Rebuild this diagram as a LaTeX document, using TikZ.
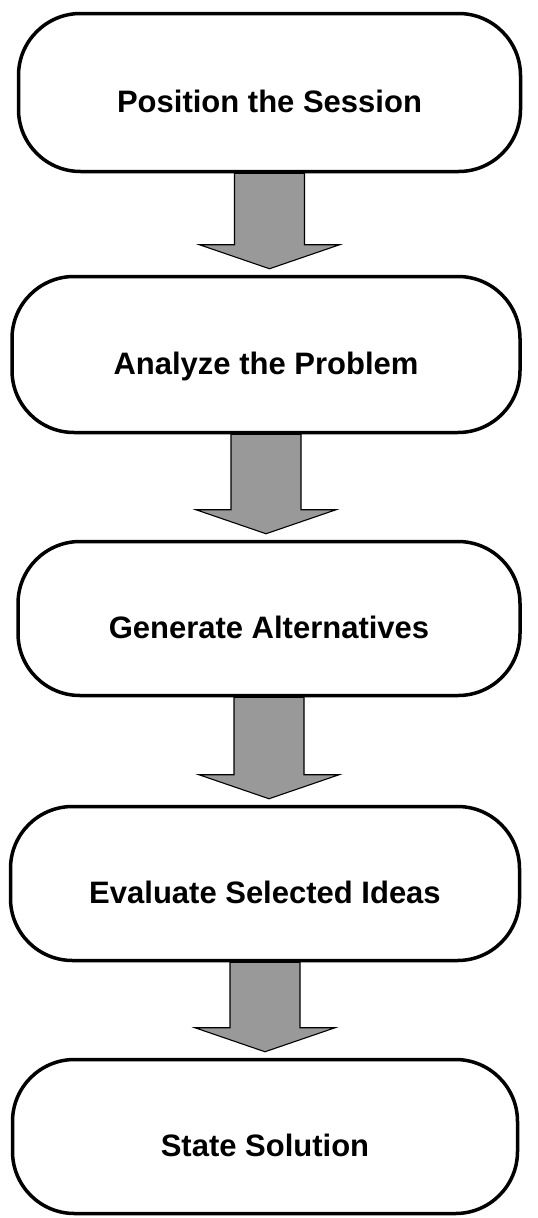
\documentclass[tikz,border=0pt]{standalone}
\usepackage{fontspec}
\setmainfont{Liberation Sans}
\usetikzlibrary{calc,backgrounds}

\tikzset{
  stepbox/.style={draw, line width=3.5pt, fill=white, rounded corners=62pt,
    font=\fontsize{31}{36}\selectfont\bfseries, align=center,
    text height=40pt, text depth=0pt, inner sep=0pt},
  flowfill/.style={draw, line width=1.1pt, fill=black!40, line join=miter}
}

% block arrow from the bottom of one step to the top of the next
\newcommand{\flowarrow}[2]{%
  \draw[flowfill] let \p1=(#1.south), \p2=(#2.north) in
    (\x1-35pt,\y1) -- (\x1-35pt,\y2+30pt) -- (\x1-70pt,\y2+30pt)
    -- (\x1,\y2+6pt) -- (\x1+70pt,\y2+30pt) -- (\x1+35pt,\y2+30pt)
    -- (\x1+35pt,\y1) -- cycle;}

\begin{document}
\begin{tikzpicture}[x=1pt,y=-1pt]
  \useasboundingbox (0,0) rectangle (538,1218);

  \node[stepbox, minimum width=502pt, minimum height=158pt] (position) at (269.5,92.5) {Position the Session};
  \node[stepbox, minimum width=508pt, minimum height=156pt] (analyze) at (266,354.5) {Analyze the Problem};
  \node[stepbox, minimum width=502pt, minimum height=154pt] (generate) at (269,618.5) {Generate Alternatives};
  \node[stepbox, minimum width=509pt, minimum height=154pt] (evaluate) at (265,883.5) {Evaluate Selected Ideas};
  \node[stepbox, minimum width=505pt, minimum height=154pt] (solution) at (265,1136.5) {State Solution};

  \begin{scope}[on background layer]
    \flowarrow{position}{analyze}
    \flowarrow{analyze}{generate}
    \flowarrow{generate}{evaluate}
    \flowarrow{evaluate}{solution}
  \end{scope}
\end{tikzpicture}
\end{document}
